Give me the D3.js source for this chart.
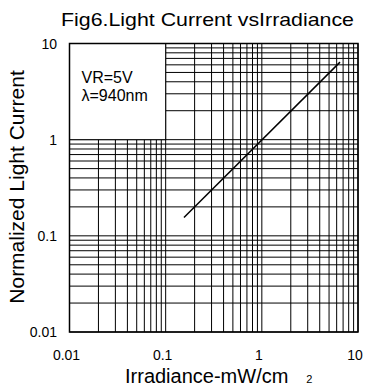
<!DOCTYPE html>
<html>
<head>
<meta charset="utf-8">
<script src="https://cdn.jsdelivr.net/npm/d3@7"></script>
<style>
  body { margin: 0; background: #fff; }
  svg { display: block; }
  text { font-family: "Liberation Sans", Arial, sans-serif; fill: #000; }
  .grid line { stroke: #000; stroke-width: 1; }
</style>
</head>
<body>
<svg id="chart" width="369" height="387"></svg>
<script>
// chart values
var title = "Fig6.Light Current vsIrradiance";
var xTickLabels = ["0.01", "0.1", "1", "10"];
var yTickLabels = ["0.01", "0.1", "1", "10"];
var decades = [0.01, 0.1, 1];
var multipliers = [1, 2, 3, 4, 5, 6, 7, 8, 9];
var irradiance = [0.155, 6.5];   // mW/cm2
var lightCurrent = [0.155, 6.4]; // normalized
var noteLines = ["VR=5V", "\u03bb=940nm"];

var svg = d3.select("#chart");

var plotLeft = 69.5, plotRight = 358, plotTop = 43.5, plotBottom = 332;

var x = d3.scaleLog().domain([0.01, 10]).range([plotLeft, plotRight]);
var y = d3.scaleLog().domain([0.01, 10]).range([plotBottom, plotTop]);

var gridValues = [];
decades.forEach(function (d) {
  multipliers.forEach(function (m) { gridValues.push(+(d * m).toPrecision(3)); });
});
gridValues.push(10);

// grid lines
var grid = svg.append("g").attr("class", "grid");

grid.selectAll("line.v").data(gridValues).enter()
  .append("line").attr("class", "v")
  .attr("x1", function (d) { return x(d); })
  .attr("x2", function (d) { return x(d); })
  .attr("y1", y(0.01))
  .attr("y2", y(10));

grid.selectAll("line.h").data(gridValues).enter()
  .append("line").attr("class", "h")
  .attr("y1", function (d) { return y(d); })
  .attr("y2", function (d) { return y(d); })
  .attr("x1", x(0.01))
  .attr("x2", x(10));

// blank box for the test conditions (upper left decade)
svg.append("rect")
  .attr("x", x(0.01))
  .attr("y", y(10))
  .attr("width", x(0.1) - x(0.01))
  .attr("height", y(1) - y(10))
  .attr("fill", "#fff")
  .attr("stroke", "#000")
  .attr("stroke-width", 1);

// frame
svg.append("rect")
  .attr("x", x(0.01))
  .attr("y", y(10))
  .attr("width", x(10) - x(0.01))
  .attr("height", y(0.01) - y(10))
  .attr("fill", "none")
  .attr("stroke", "#000")
  .attr("stroke-width", 1.5);

// the curve
var line = d3.line()
  .x(function (d, i) { return x(irradiance[i]); })
  .y(function (d, i) { return y(lightCurrent[i]); });

svg.append("path")
  .datum(irradiance)
  .attr("d", line)
  .attr("fill", "none")
  .attr("stroke", "#000")
  .attr("stroke-width", 1.5);

// notes in the box
svg.selectAll("text.note").data(noteLines).enter()
  .append("text").attr("class", "note")
  .attr("x", x(0.01) + 12)
  .attr("y", function (d, i) { return 83 + i * 18; })
  .attr("font-size", 16)
  .text(function (d) { return d; });

// tick labels
var majors = [0.01, 0.1, 1, 10];

svg.selectAll("text.xtick").data(majors).enter()
  .append("text").attr("class", "xtick")
  .attr("x", function (d) { return x(d) - 3; })
  .attr("y", 360)
  .attr("text-anchor", "middle")
  .attr("font-size", 14)
  .text(function (d, i) { return xTickLabels[i]; });

svg.selectAll("text.ytick").data(majors).enter()
  .append("text").attr("class", "ytick")
  .attr("x", 57)
  .attr("y", function (d) { return y(d) + 5; })
  .attr("text-anchor", "end")
  .attr("font-size", 14)
  .text(function (d, i) { return yTickLabels[i]; });

// title and axis titles
svg.append("text")
  .attr("x", 61)
  .attr("y", 26)
  .attr("font-size", 18.5)
  .attr("textLength", 293)
  .attr("lengthAdjust", "spacingAndGlyphs")
  .text(title);

svg.append("text")
  .attr("transform", "translate(24,187) rotate(-90)")
  .attr("text-anchor", "middle")
  .attr("font-size", 21)
  .text("Normalized Light Current");

var xTitle = svg.append("text")
  .attr("x", 125)
  .attr("y", 383)
  .attr("font-size", 20);
xTitle.append("tspan").text("Irradiance-mW/cm");
xTitle.append("tspan").attr("dx", 18).attr("font-size", 11).text("2");
</script>
</body>
</html>
